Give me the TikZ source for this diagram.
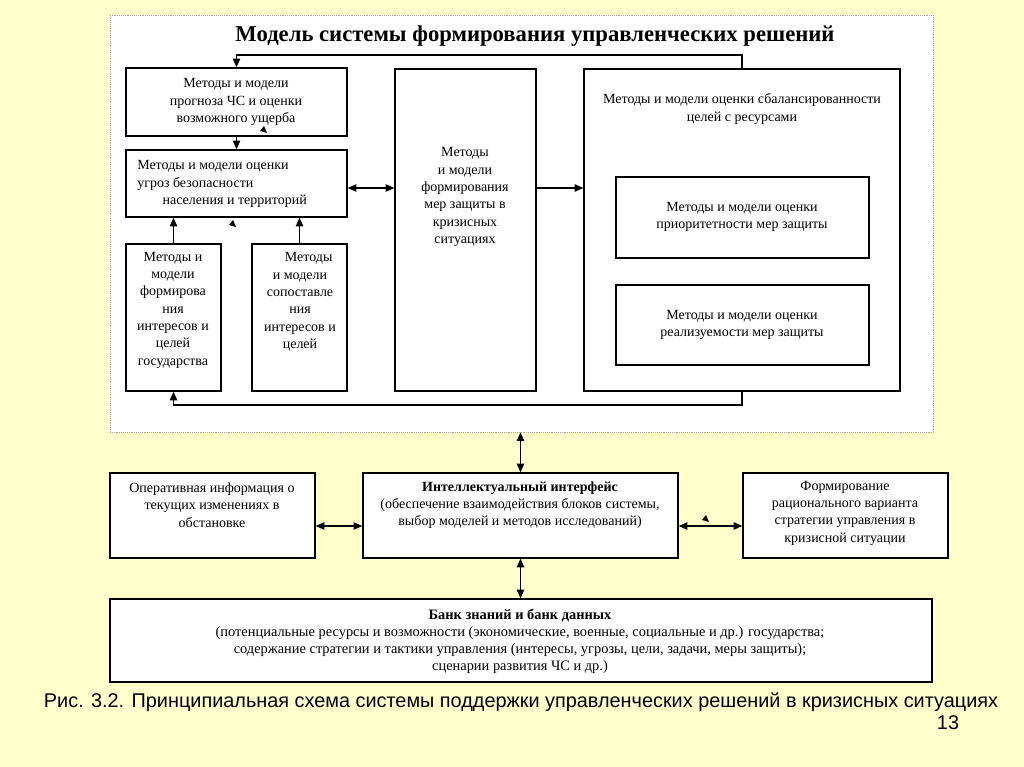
\documentclass[tikz,border=0pt]{standalone}
\usepackage{fontspec}
\setmainfont{Liberation Serif}
\newfontfamily\capfont{Liberation Sans}
\usetikzlibrary{arrows.meta,fit}
\tikzset {>={Triangle[length=6.5pt,width=5.5pt]}}
\definecolor{pageyel}{HTML}{FFFFCC}
\definecolor{framegray}{HTML}{A8A8A0}
\newcommand*{\tri}[2]{\fill (#1,#2) -- ++(7,2) -- ++(-3,-7) -- cycle;}

\begin{document}
\begin{tikzpicture}[x=0.75pt,y=-0.75pt,
  blk/.style={draw,line width=1pt,fill=white,inner sep=0pt},
  txt/.style={align=center,inner sep=0pt,font=\fontsize{10.5}{13}\selectfont},
  arr/.style={->,line width=1pt},
  dbl/.style={<->,line width=1pt}]
\fill[pageyel] (0,0) rectangle (1024,767);
\useasboundingbox (0,0) rectangle (1024,767);
\node[fit={(110,15) (933,432)},inner sep=0pt,fill=white,draw=framegray,densely dotted] (frame) {};
\node[font=\bfseries\fontsize{17}{20}\selectfont] (title) at (535,36)
  {Модель системы формирования управленческих решений};

% upper part
\node[blk,fit={(126,68) (347,136)}] (prog) {};
\node[blk,fit={(126,150) (347,217)}] (threat) {};
\node[blk,fit={(126,244) (221,391)}] (intr) {};
\node[blk,fit={(252,244) (347,391)}] (cmp) {};
\node[blk,fit={(395,69) (536,391)}] (form) {};
\node[blk,fit={(584,69) (900,391)}] (bal) {};
\node[blk,fit={(616,177) (869,258)}] (prio) {};
\node[blk,fit={(616,285) (869,365)}] (real) {};

\node[txt] (progt) at (236,102) {Методы и модели\\прогноза ЧС и оценки\\возможного ущерба};
\node[txt,align=left,anchor=west] (threatt) at (137,184)
  {Методы и модели оценки\\угроз безопасности\\\hspace*{19pt}населения и территорий};
\node[txt] (intrt) at (173,310) {Методы и\\модели\\формирова\\ния\\интересов и\\целей\\государства};
\node[txt] (cmpt) at (300,302) {\hspace*{13pt}Методы\\и модели\\сопоставле\\ния\\интересов и\\целей};
\node[txt] (formt) at (465,197) {Методы\\и модели\\формирования\\мер защиты в\\кризисных\\ситуациях};
\node[txt] (balt) at (742,109) {Методы и модели оценки сбалансированности\\целей с ресурсами};
\node[txt] (priot) at (742,217) {Методы и модели оценки\\приоритетности мер защиты};
\node[txt] (realt) at (742,325) {Методы и модели оценки\\реализуемости мер защиты};

\coordinate (topx) at (742,55);
\coordinate (botx) at (742,405);
\coordinate (midy) at (0,188);
\draw[arr] (bal.north -| topx) -- (topx) -| (prog.north);
\draw[arr] (prog) -- (threat);
\draw[arr] (intr.north) -- (intr.north |- threat.south);
\draw[arr] (cmp.north) -- (cmp.north |- threat.south);
\draw[dbl] (threat.east |- midy) -- (form.west |- midy);
\draw[arr] (form.east |- midy) -- (bal.west |- midy);
\draw[arr] (bal.south -| botx) -- (botx) -| (intr.south);

% lower part
\node[blk,fit={(110,473) (315,558)}] (oper) {};
\node[blk,fit={(363,473) (678,558)}] (iface) {};
\node[blk,fit={(743,473) (948,558)}] (strat) {};
\node[blk,fit={(110,599) (932,682)}] (bank) {};

\node[txt] (opert) at (212,505) {Оперативная информация о\\текущих изменениях в\\обстановке};
\node[txt] (ifacet) at (520,505) {\textbf{Интеллектуальный интерфейс}\\(обеспечение взаимодействия блоков системы,\\выбор моделей и методов исследований)};
\node[txt] (stratt) at (845,513) {Формирование\\рационального варианта\\стратегии управления в\\кризисной ситуации};
\node[txt,font=\fontsize{10.8}{12.8}\selectfont] (bankt) at (520,641)
  {\textbf{Банк знаний и банк данных}\\
   (потенциальные ресурсы и возможности (экономические, военные, социальные и др.) государства;\\
   содержание стратегии и тактики управления (интересы, угрозы, цели, задачи, меры защиты);\\
   сценарии развития ЧС и др.)};

\coordinate (lowy) at (0,526);
\draw[dbl] (frame.south -| iface.north) -- (iface.north);
\draw[dbl] (iface.south) -- (bank.north -| iface.south);
\draw[dbl] (oper.east |- lowy) -- (iface.west |- lowy);
\draw[dbl] (iface.east |- lowy) -- (strat.west |- lowy);

% stray marks
\tri{260}{131}
\tri{229}{225}
\tri{702}{520}

\node[font=\capfont\fontsize{14.9}{18}\selectfont] (cap) at (521,702)
  {Рис. 3.2. Принципиальная схема системы поддержки управленческих решений в кризисных ситуациях};
\node[font=\capfont\fontsize{14.9}{18}\selectfont] (pgno) at (948,723) {13};
\end{tikzpicture}
\end{document}
